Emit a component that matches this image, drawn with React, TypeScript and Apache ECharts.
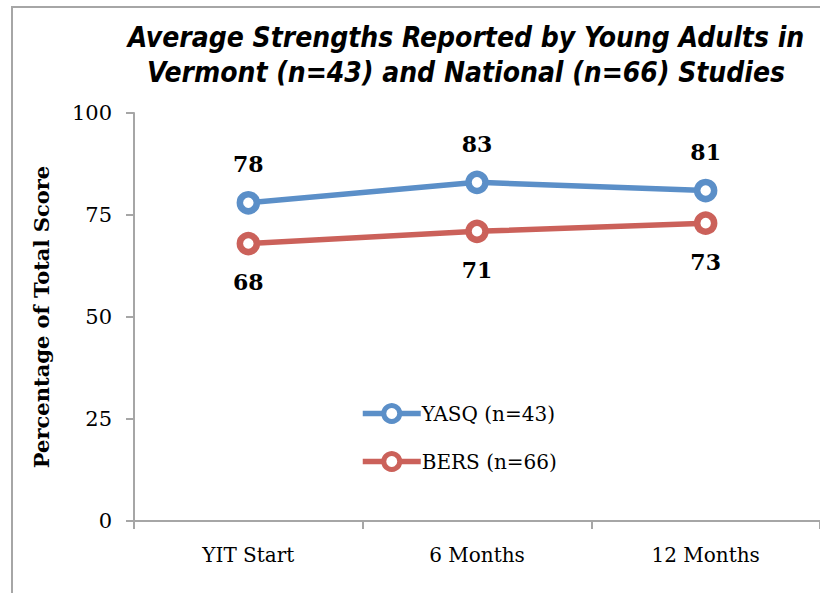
import React, { useEffect, useRef } from "react";
import * as echarts from "echarts";

const categories = ["YIT Start", "6 Months", "12 Months"];
const yasqValues = [78, 83, 81];
const bersValues = [68, 71, 73];
const seriesNames = ["YASQ (n=43)", "BERS (n=66)"];
const seriesColors = ["#5b8fc8", "#cb615a"];
const titleLines = [
  "Average Strengths Reported by Young Adults in",
  "Vermont (n=43) and National (n=66) Studies",
];
const yAxisName = "Percentage of Total Score";

export default function App() {
  const ref = useRef<HTMLDivElement>(null);
  useEffect(() => {
    document.body.style.margin = "0";
    const chart = echarts.init(ref.current!, null, { renderer: "svg" });
    const serif = "'DejaVu Serif', 'Liberation Serif', serif";
    const mkSeries = (name: string, data: number[], color: string, pos: string) => ({
      name,
      type: "line",
      data,
      symbol: "circle",
      symbolSize: 17,
      lineStyle: { color, width: 5.5 },
      itemStyle: { color: "#ffffff", borderColor: color, borderWidth: 6.5 },
      label: {
        show: true,
        position: pos,
        distance: 16,
        fontFamily: serif,
        fontWeight: "bold",
        fontSize: 22,
        color: "#000000",
      },
    });
    chart.setOption({
      animation: false,
      backgroundColor: "#ffffff",
      title: {
        text: titleLines.join("\n"),
        left: 461,
        top: 15,
        textAlign: "center",
        textStyle: {
          fontFamily: "'DejaVu Sans Condensed', 'DejaVu Sans', sans-serif",
          fontStyle: "italic",
          fontWeight: "bold",
          fontSize: 28,
          lineHeight: 35,
          color: "#000000",
        },
      },
      graphic: [
        {
          type: "polyline",
          shape: { points: [[12, 593], [12, 7], [820, 7]] },
          style: { stroke: "#a6a6a6", lineWidth: 2, fill: null },
        },
      ],
      legend: {
        orient: "vertical",
        left: 355,
        top: 398,
        itemGap: 27,
        itemWidth: 58,
        itemHeight: 20,
        textStyle: { fontFamily: serif, fontSize: 20, color: "#000000", padding: [0, 0, 0, -4] },
        data: seriesNames.map((n, i) => ({
          name: n,
          itemStyle: { color: "#ffffff", borderColor: seriesColors[i], borderWidth: 5 },
          lineStyle: { color: seriesColors[i], width: 5.5 },
        })),
      },
      grid: { left: 134, right: -6, top: 113, bottom: 72, containLabel: false },
      xAxis: {
        type: "category",
        data: categories,
        boundaryGap: true,
        axisLine: { lineStyle: { color: "#a6a6a6", width: 2 } },
        axisTick: { show: true, length: 8, lineStyle: { color: "#a6a6a6", width: 2 } },
        axisLabel: { fontFamily: serif, fontSize: 20, color: "#000000", margin: 24 },
      },
      yAxis: {
        type: "value",
        min: 0,
        max: 100,
        interval: 25,
        name: yAxisName,
        nameLocation: "middle",
        nameGap: 82,
        nameTextStyle: { fontFamily: serif, fontSize: 21, fontWeight: "bold", color: "#000000" },
        axisLine: { show: true, lineStyle: { color: "#a6a6a6", width: 2 } },
        axisTick: { show: true, length: 8, inside: false, lineStyle: { color: "#a6a6a6", width: 2 } },
        splitLine: { show: false },
        axisLabel: { fontFamily: serif, fontSize: 21, color: "#000000", margin: 22 },
      },
      series: [
        mkSeries(seriesNames[0], yasqValues, seriesColors[0], "top"),
        mkSeries(seriesNames[1], bersValues, seriesColors[1], "bottom"),
      ],
    });
    return () => chart.dispose();
  }, []);
  return <div ref={ref} style={{ width: 820, height: 593 }} />;
}
